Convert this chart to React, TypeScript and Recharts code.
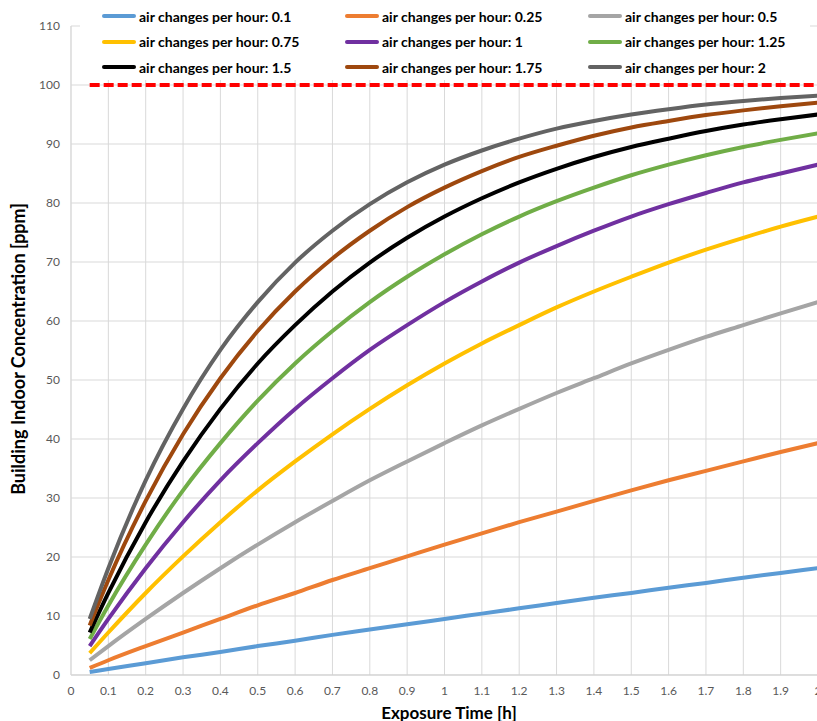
import React from 'react';
import { LineChart, Line, XAxis, YAxis, CartesianGrid, Legend, ReferenceLine } from 'recharts';

// exposure time [h]
const hours = [0.05, 0.1, 0.2, 0.3, 0.4, 0.5, 0.6, 0.7, 0.8, 0.9, 1, 1.1, 1.2, 1.3, 1.4, 1.5, 1.6, 1.7, 1.8, 1.9, 2];

// concentration [ppm] per air change rate
const ach010 = [0.5, 1.0, 2.0, 3.0, 3.9, 4.9, 5.8, 6.8, 7.7, 8.6, 9.5, 10.4, 11.3, 12.2, 13.1, 13.9, 14.8, 15.6, 16.5, 17.3, 18.1];
const ach025 = [1.2, 2.5, 4.9, 7.2, 9.5, 11.8, 13.9, 16.1, 18.1, 20.1, 22.1, 24.0, 25.9, 27.7, 29.5, 31.3, 33.0, 34.6, 36.2, 37.8, 39.3];
const ach050 = [2.5, 4.9, 9.5, 13.9, 18.1, 22.1, 25.9, 29.5, 33.0, 36.2, 39.3, 42.3, 45.1, 47.8, 50.3, 52.8, 55.1, 57.3, 59.3, 61.3, 63.2];
const ach075 = [3.7, 7.2, 13.9, 20.1, 25.9, 31.3, 36.2, 40.8, 45.1, 49.1, 52.8, 56.2, 59.3, 62.3, 65.0, 67.5, 69.9, 72.1, 74.1, 76.0, 77.7];
const ach100 = [4.9, 9.5, 18.1, 25.9, 33.0, 39.3, 45.1, 50.3, 55.1, 59.3, 63.2, 66.7, 69.9, 72.7, 75.3, 77.7, 79.8, 81.7, 83.5, 85.0, 86.5];
const ach125 = [6.1, 11.8, 22.1, 31.3, 39.3, 46.5, 52.8, 58.3, 63.2, 67.5, 71.3, 74.7, 77.7, 80.3, 82.6, 84.7, 86.5, 88.1, 89.5, 90.7, 91.8];
const ach150 = [7.2, 13.9, 25.9, 36.2, 45.1, 52.8, 59.3, 65.0, 69.9, 74.1, 77.7, 80.8, 83.5, 85.8, 87.8, 89.5, 90.9, 92.2, 93.3, 94.2, 95.0];
const ach175 = [8.4, 16.1, 29.5, 40.8, 50.3, 58.3, 65.0, 70.6, 75.3, 79.3, 82.6, 85.4, 87.8, 89.7, 91.4, 92.8, 93.9, 94.9, 95.7, 96.4, 97.0];
const ach200 = [9.5, 18.1, 33.0, 45.1, 55.1, 63.2, 69.9, 75.3, 79.8, 83.5, 86.5, 88.9, 90.9, 92.6, 93.9, 95.0, 95.9, 96.7, 97.3, 97.8, 98.2];

const limit = 100;

const xTicks = [0, 0.1, 0.2, 0.3, 0.4, 0.5, 0.6, 0.7, 0.8, 0.9, 1, 1.1, 1.2, 1.3, 1.4, 1.5, 1.6, 1.7, 1.8, 1.9, 2];
const yTicks = [0, 10, 20, 30, 40, 50, 60, 70, 80, 90, 100, 110];

const series = [
  { key: 'a010', label: 'air changes per hour: 0.1', values: ach010, color: '#5B9BD5' },
  { key: 'a025', label: 'air changes per hour: 0.25', values: ach025, color: '#ED7D31' },
  { key: 'a050', label: 'air changes per hour: 0.5', values: ach050, color: '#A5A5A5' },
  { key: 'a075', label: 'air changes per hour: 0.75', values: ach075, color: '#FFC000' },
  { key: 'a100', label: 'air changes per hour: 1', values: ach100, color: '#7030A0' },
  { key: 'a125', label: 'air changes per hour: 1.25', values: ach125, color: '#70AD47' },
  { key: 'a150', label: 'air changes per hour: 1.5', values: ach150, color: '#000000' },
  { key: 'a175', label: 'air changes per hour: 1.75', values: ach175, color: '#9E480E' },
  { key: 'a200', label: 'air changes per hour: 2', values: ach200, color: '#636363' }
];

const data = hours.map((t, i) => {
  const row: Record<string, number> = { t };
  series.forEach((s) => {
    row[s.key] = s.values[i];
  });
  return row;
});

const font = 'Lato, "Open Sans", sans-serif';

function ChartLegend() {
  return (
    <div
      style={{
        position: 'absolute',
        left: 80,
        top: 0,
        width: 730,
        height: 80,
        background: '#fff',
        fontFamily: font
      }}
    >
      {series.map((s, i) => (
        <div
          key={s.key}
          style={{
            position: 'absolute',
            left: 22 + (i % 3) * 243,
            top: 16 + Math.floor(i / 3) * 25.5 - 10,
            height: 20,
            display: 'flex',
            alignItems: 'center',
            whiteSpace: 'nowrap'
          }}
        >
          <span style={{ width: 34, height: 4, background: s.color, borderRadius: 2, marginRight: 3 }} />
          <span style={{ fontSize: 14, fontWeight: 700, color: '#000' }}>{s.label}</span>
        </div>
      ))}
    </div>
  );
}

export default function App() {
  return (
    <div
      style={{
        position: 'absolute',
        left: 0,
        top: 0,
        width: 817,
        height: 721,
        overflow: 'hidden',
        background: '#fff'
      }}
    >
      <LineChart
        width={830}
        height={721}
        data={data}
        margin={{ top: 26, right: 12, left: 0, bottom: 26 }}
        style={{ fontFamily: font }}
      >
        <CartesianGrid stroke='#d9d9d9' strokeWidth={1} />
        <XAxis
          dataKey='t'
          type='number'
          domain={[0, 2]}
          ticks={xTicks}
          interval={0}
          tickSize={0}
          tickMargin={11}
          stroke='#cfcfcf'
          tick={{ fill: '#595959', fontSize: 12 }}
          height={20}
        />
        <YAxis
          type='number'
          domain={[0, 110]}
          ticks={yTicks}
          interval={0}
          tickSize={0}
          tickMargin={11}
          width={71}
          stroke='#d9d9d9'
          tick={{ fill: '#595959', fontSize: 12 }}
        />
        <Legend content={() => <ChartLegend />} wrapperStyle={{ left: 0, top: 0, width: 830, height: 0 }} />
        <ReferenceLine
          segment={[
            { x: hours[0], y: limit },
            { x: hours[hours.length - 1], y: limit }
          ]}
          stroke='#FF0000'
          strokeWidth={4}
          strokeDasharray='10 4'
        />
        {series.map((s) => (
          <Line
            key={s.key}
            type='monotone'
            dataKey={s.key}
            name={s.label}
            stroke={s.color}
            strokeWidth={4}
            dot={false}
            isAnimationActive={false}
          />
        ))}
      </LineChart>
      <div
        style={{
          position: 'absolute',
          left: 18,
          top: 349,
          transform: 'translate(-50%, -50%) rotate(-90deg)',
          whiteSpace: 'nowrap',
          fontFamily: font,
          fontSize: 18,
          fontWeight: 700,
          color: '#000'
        }}
      >
        Building Indoor Concentration [ppm]
      </div>
      <div
        style={{
          position: 'absolute',
          left: 449,
          top: 712,
          transform: 'translate(-50%, -50%)',
          whiteSpace: 'nowrap',
          fontFamily: font,
          fontSize: 17,
          fontWeight: 700,
          color: '#000'
        }}
      >
        Exposure Time [h]
      </div>
    </div>
  );
}
